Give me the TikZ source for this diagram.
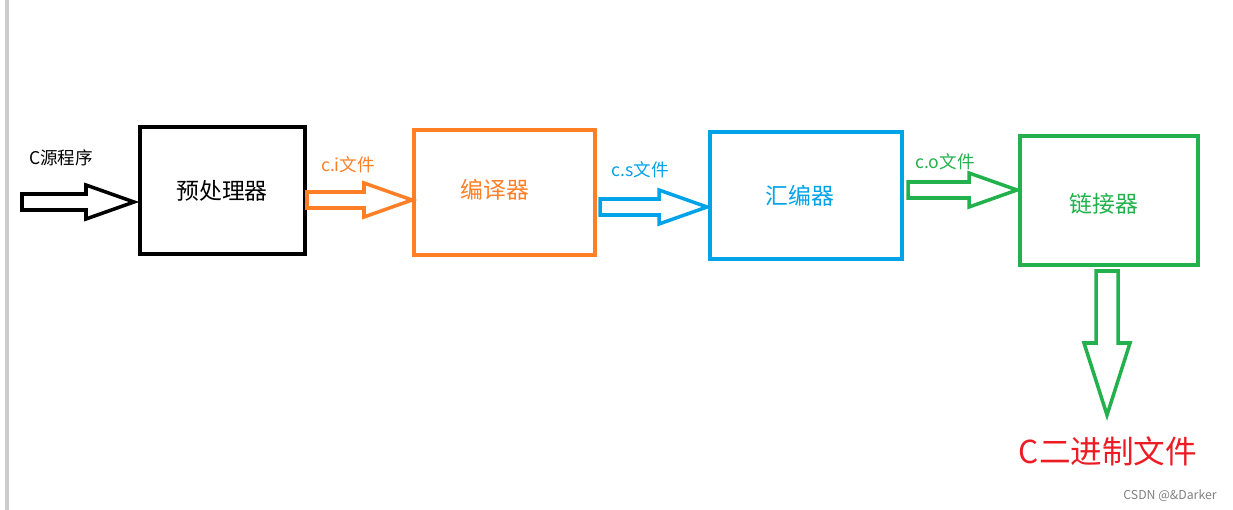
\documentclass[tikz,border=0pt]{standalone}
\usepackage{fontspec}
\setmainfont{Noto Sans CJK SC}
\definecolor{corange}{RGB}{255,127,39}
\definecolor{cblue}{RGB}{0,162,232}
\definecolor{cgreen}{RGB}{34,177,76}
\definecolor{cred}{RGB}{237,28,36}
\tikzset{
  stage/.style={draw, line width=2.2pt, minimum width=#1, inner sep=0pt, font=\fontsize{13}{15}\selectfont},
  lab/.style={font=\fontsize{10}{12}\selectfont},
}
% hollow block arrow: color, x start, x end, y centre, head length
\newcommand{\blockarr}[5]{%
  \draw[#1, line width=2pt, line join=miter]
    ({#2},{#4-8}) -- ({#3-#5},{#4-8}) -- ({#3-#5},{#4-17}) -- ({#3},{#4})
    -- ({#3-#5},{#4+17}) -- ({#3-#5},{#4+8}) -- ({#2},{#4+8}) -- cycle;}
\begin{document}
\begin{tikzpicture}[x=0.02cm, y=-0.02cm]
	\useasboundingbox (0,0) rectangle (1233,510);
	\draw[gray!40, line width=2pt] (7,0) -- (7,510);
	% stages
	\draw[black, line width=2.2pt] (140,127) rectangle (305,254);
	\node (pre) at (222,191) {\fontsize{13}{15}\selectfont 预处理器};
	\draw[corange, line width=2.2pt] (414,130) rectangle (595,255);
	\node[corange] (comp) at (495,190) {\fontsize{13}{15}\selectfont 编译器};
	\draw[cblue, line width=2.2pt] (710,132) rectangle (902,259);
	\node[cblue] (asm) at (800,196) {\fontsize{13}{15}\selectfont 汇编器};
	\draw[cgreen, line width=2.2pt] (1020,136) rectangle (1198,265);
	\node[cgreen] (link) at (1104,204) {\fontsize{13}{15}\selectfont 链接器};
	% arrows
	\blockarr{black}{22}{134}{202}{48}
	\blockarr{corange}{307}{412}{200}{48}
	\blockarr{cblue}{600}{707}{207}{48}
	\blockarr{cgreen}{908}{1017}{190}{48}
	\draw[cgreen, line width=2pt, line join=miter]
	  (1096,271) -- (1096,343) -- (1084,343) -- (1107,415) -- (1130,343)
	  -- (1118,343) -- (1118,271) -- cycle;
	% labels
	\node[lab] (src) at (61,158) {C源程序};
	\node[lab, corange] (ci) at (348,165) {c.i文件};
	\node[lab, cblue] (cs) at (640,170) {c.s文件};
	\node[lab, cgreen] (co) at (945,162) {c.o文件};
	\node[cred, font=\fontsize{18}{20}\selectfont] (bin) at (1108,451) {C二进制文件};
	\node[gray, font=\fontsize{7}{8}\selectfont] (mark) at (1170,496) {CSDN @\&Darker};
\end{tikzpicture}
\end{document}
